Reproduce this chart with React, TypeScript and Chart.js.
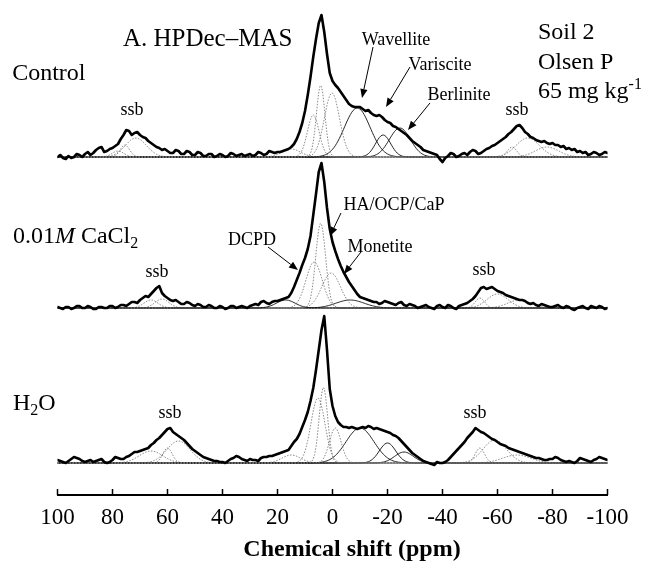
import React, { useEffect, useRef } from "react";
import { Chart, registerables } from "chart.js";

Chart.register(...registerables);

// ---------- data ----------
// chemical shift (ppm), one point per ppm from 100 down to -100
const ppm = [
  100, 99, 98, 97, 96, 95, 94, 93, 92, 91,
  90, 89, 88, 87, 86, 85, 84, 83, 82, 81,
  80, 79, 78, 77, 76, 75, 74, 73, 72, 71,
  70, 69, 68, 67, 66, 65, 64, 63, 62, 61,
  60, 59, 58, 57, 56, 55, 54, 53, 52, 51,
  50, 49, 48, 47, 46, 45, 44, 43, 42, 41,
  40, 39, 38, 37, 36, 35, 34, 33, 32, 31,
  30, 29, 28, 27, 26, 25, 24, 23, 22, 21,
  20, 19, 18, 17, 16, 15, 14, 13, 12, 11,
  10, 9, 8, 7, 6, 5, 4, 3, 2, 1,
  0, -1, -2, -3, -4, -5, -6, -7, -8, -9,
  -10, -11, -12, -13, -14, -15, -16, -17, -18, -19,
  -20, -21, -22, -23, -24, -25, -26, -27, -28, -29,
  -30, -31, -32, -33, -34, -35, -36, -37, -38, -39,
  -40, -41, -42, -43, -44, -45, -46, -47, -48, -49,
  -50, -51, -52, -53, -54, -55, -56, -57, -58, -59,
  -60, -61, -62, -63, -64, -65, -66, -67, -68, -69,
  -70, -71, -72, -73, -74, -75, -76, -77, -78, -79,
  -80, -81, -82, -83, -84, -85, -86, -87, -88, -89,
  -90, -91, -92, -93, -94, -95, -96, -97, -98, -99,
  -100,
];

const controlSpectrum = [
  0, 2, -1, -2, 1, -1, 0, 3, 2, 0,
  3, 5, 2, 4, 7, 9, 10, 5, 6, 8,
  9, 11, 13, 18, 22, 27, 26, 22, 24, 25,
  22, 20, 19, 16, 14, 12, 10, 9, 7, 8,
  6, 4, 4, 7, 6, 3, 3, 6, 5, 2,
  2, 5, 4, 1, 1, 3, 3, 0, 1, 3,
  2, 0, 1, 4, 3, 1, 2, 3, 1, 2,
  3, 1, 2, 5, 4, 2, 3, 6, 5, 4,
  5, 5, 6, 7, 8, 10, 13, 18, 25, 34,
  46, 62, 80, 100, 118, 134, 142, 125, 103, 84,
  76, 72, 69, 65, 61, 57, 53, 51, 50, 50,
  50, 48, 46, 47, 44, 42, 41, 42, 40, 37,
  35, 34, 31, 30, 28, 26, 24, 22, 19, 16,
  14, 12, 10, 7, 6, 5, 4, 3, 2, -2,
  -5, -1, 1, 4, 3, 0, 1, 3, 4, 2,
  5, 7, 6, 3, 4, 6, 8, 9, 11, 12,
  14, 16, 18, 20, 23, 25, 28, 31, 32, 29,
  25, 23, 20, 19, 17, 16, 15, 16, 14, 13,
  14, 12, 12, 10, 11, 8, 9, 7, 8, 5,
  6, 4, 5, 2, 3, 5, 4, 2, 3, 5,
  4,
];

const cacl2Spectrum = [
  1, 0, -1, 1, 1, -1, 0, 2, 2, 0,
  0, 2, 1, -1, -1, 1, 1, 0, 0, 2,
  2, 0, 1, 3, 3, 2, 4, 6, 6, 5,
  8, 10, 12, 11, 14, 17, 20, 22, 15, 12,
  10, 8, 7, 8, 6, 4, 4, 6, 5, 3,
  2, 4, 3, 1, 1, 3, 2, 0, 0, 2,
  1, -1, 0, 2, 2, 0, 1, 2, 1, 0,
  2, 3, 4, 3, 6, 7, 5, 4, 6, 7,
  7, 8, 9, 10, 11, 15, 21, 28, 35, 43,
  50, 59, 72, 93, 114, 136, 145, 126, 100, 79,
  66, 57, 49, 42, 36, 31, 26, 22, 18, 14,
  11, 10, 9, 8, 7, 6, 6, 4, 5, 7,
  6, 5, 4, 3, 5, 6, 3, 2, 4, 3,
  2, 0, 1, 2, 3, 1, 0, -1, 2, 3,
  1, 0, 3, 2, 0, -1, 2, 3, 4, 5,
  7, 9, 12, 16, 20, 21, 19, 20, 21, 19,
  17, 16, 15, 13, 12, 11, 10, 9, 8, 8,
  7, 5, 4, 5, 3, 2, 4, 3, 2, 1,
  1, 2, 3, 1, 0, 2, 1, -1, -2, 0,
  1, 2, 0, -1, 2, 1, 0, 2, 1, -1,
  0,
];

const waterSpectrum = [
  3, 2, 1, 0, 2, 4, 6, 5, 4, 2,
  1, 2, 3, 1, 2, 3, 4, 1, 0, 1,
  3, 6, 5, 4, 4, 6, 7, 9, 11, 11,
  12, 13, 14, 15, 18, 20, 23, 25, 28, 31,
  34, 35, 31, 29, 27, 25, 23, 20, 17, 14,
  12, 10, 8, 6, 5, 4, 3, 2, 2, 1,
  1, 0, 2, 4, 5, 7, 6, 4, 3, 2,
  4, 3, 3, 2, 5, 6, 6, 7, 7, 8,
  9, 10, 11, 12, 13, 17, 21, 24, 29, 36,
  43, 51, 62, 75, 93, 113, 133, 147, 113, 74,
  57, 47, 41, 38, 36, 36, 35, 36, 35, 34,
  35, 36, 35, 37, 36, 34, 35, 34, 33, 32,
  31, 30, 28, 27, 25, 22, 19, 16, 13, 10,
  8, 6, 4, 2, 1, 0, -1, -2, 1, 0,
  0, 1, 3, 6, 9, 12, 15, 18, 21, 25,
  28, 31, 35, 33, 31, 30, 28, 26, 24, 23,
  21, 19, 18, 17, 15, 14, 13, 12, 11, 10,
  9, 8, 7, 6, 5, 5, 4, 3, 3, 4,
  4, 6, 5, 3, 2, 1, 2, 1, 0, 2,
  5, 4, 3, 2, 1, 3, 4, 6, 5, 4,
  3,
];

// fitted components: centre (ppm), height, FWHM (ppm), line kind (s = solid, d = dotted)
const controlCompCenters = [15, 7, 4.3, 0.2, -9, -18.4, -24.5, 78, 75.5, 71.5, -65.3, -71, -78];
const controlCompHeights = [8, 42, 72, 64, 49, 22, 29, 6, 12, 19, 10, 19, 10];
const controlCompWidths = [8, 5, 3.6, 6.5, 11, 6.5, 9, 5, 4, 9, 4, 10, 10];
const controlCompKinds = ["d", "d", "d", "d", "s", "s", "s", "d", "d", "d", "d", "d", "d"];

const cacl2CompCenters = [17, 6.7, 4.3, 0.5, -6.4, 66, 62, -53.6, -60, -68];
const cacl2CompHeights = [8, 46, 85, 35, 8, 8, 9, 10, 14, 8];
const cacl2CompWidths = [8, 7, 4.2, 8, 12, 6, 6, 4, 9, 10];
const cacl2CompKinds = ["s", "d", "d", "d", "s", "d", "d", "d", "d", "d"];

const waterCompCenters = [15, 5.3, 3.3, -1, -10, -20, -26, 60, 56, 66, -53.6, -59, -67];
const waterCompHeights = [8, 65, 76, 35, 35, 20, 11, 15, 22, 12, 15, 23, 8];
const waterCompWidths = [8, 6, 3.6, 5, 12, 7, 8, 4, 10, 10, 4, 10, 12];
const waterCompKinds = ["d", "d", "d", "d", "s", "s", "s", "d", "d", "d", "d", "d", "d"];

const xTicks = [100, 80, 60, 40, 20, 0, -20, -40, -60, -80, -100];

// vertical offsets of the stacked traces (y-axis units)
const OFFSET_CONTROL = 338;
const OFFSET_CACL2 = 187;
const OFFSET_WATER = 32;

// ---------- annotations (positions in data units: ppm, y) ----------
type Run = { t: string; it?: boolean; sub?: boolean; sup?: boolean };
type Label = { runs: Run[]; x: number; y: number; size: number; align: "left" | "center"; bold?: boolean };

const labels: Label[] = [
  { runs: [{ t: "A. HPDec\u2013MAS" }], x: 76.2, y: 449, size: 25, align: "left" },
  { runs: [{ t: "Control" }], x: 116.5, y: 415, size: 24, align: "left" },
  { runs: [{ t: "Soil 2" }], x: -74.7, y: 456, size: 24, align: "left" },
  { runs: [{ t: "Olsen P" }], x: -74.7, y: 426, size: 24, align: "left" },
  { runs: [{ t: "65 mg kg" }, { t: "-1", sup: true }], x: -74.7, y: 397, size: 24, align: "left" },
  { runs: [{ t: "ssb" }], x: 72.9, y: 380, size: 18, align: "center" },
  { runs: [{ t: "Wavellite" }], x: -23.1, y: 450, size: 18, align: "center" },
  { runs: [{ t: "Variscite" }], x: -39.1, y: 425, size: 18, align: "center" },
  { runs: [{ t: "Berlinite" }], x: -46, y: 395, size: 18, align: "center" },
  { runs: [{ t: "ssb" }], x: -67.1, y: 380, size: 18, align: "center" },
  { runs: [{ t: "0.01" }, { t: "M", it: true }, { t: " CaCl" }, { t: "2", sub: true }], x: 116.2, y: 252, size: 24, align: "left" },
  { runs: [{ t: "DCPD" }], x: 29.3, y: 250, size: 18, align: "center" },
  { runs: [{ t: "ssb" }], x: 63.8, y: 218, size: 18, align: "center" },
  { runs: [{ t: "HA/OCP/CaP" }], x: -22.4, y: 285, size: 18, align: "center" },
  { runs: [{ t: "Monetite" }], x: -17.3, y: 243, size: 18, align: "center" },
  { runs: [{ t: "ssb" }], x: -55.1, y: 220, size: 18, align: "center" },
  { runs: [{ t: "H" }, { t: "2", sub: true }, { t: "O" }], x: 116.2, y: 85, size: 24, align: "left" },
  { runs: [{ t: "ssb" }], x: 59.1, y: 77, size: 18, align: "center" },
  { runs: [{ t: "ssb" }], x: -51.8, y: 77, size: 18, align: "center" },
  { runs: [{ t: "Chemical shift (ppm)" }], x: -7.1, y: -61, size: 24, align: "center", bold: true },
];

const arrows = [
  { from: [-14.73, 448], to: [-10.73, 397] },
  { from: [-28.18, 428], to: [-19.45, 388] },
  { from: [-35.45, 392], to: [-27.45, 365] },
  { from: [23.45, 248], to: [12.55, 225] },
  { from: [-3.09, 282], to: [0.91, 259] },
  { from: [-10.36, 243], to: [-4.18, 221] },
];

const FONT = '"Liberation Serif", "Times New Roman", serif';

// ---------- helpers ----------
const compGrid: number[] = [];
for (let i = 0; i <= 400; i++) compGrid.push(100 - i * 0.5);

function spectrumPoints(vals: number[], off: number) {
  return ppm.map((p, i) => ({ x: p, y: off + vals[i] }));
}

function componentDatasets(c: number[], h: number[], w: number[], k: string[], off: number) {
  return c.map((center, i) => {
    const dotted = k[i] === "d";
    return {
      data: compGrid.map((p) => ({
        x: p,
        y: off + h[i] * Math.exp((-4 * Math.LN2 * (p - center) * (p - center)) / (w[i] * w[i])),
      })),
      borderColor: dotted ? "#7a7a7a" : "#111",
      borderWidth: 0.9,
      borderDash: dotted ? [1.5, 1.5] : [],
      pointRadius: 0,
      tension: 0,
      fill: false,
      order: 2,
    };
  });
}

function expDataset(vals: number[], off: number) {
  return {
    data: spectrumPoints(vals, off),
    borderColor: "#000",
    borderWidth: 2.6,
    pointRadius: 0,
    tension: 0,
    fill: false,
    order: 0,
    borderJoinStyle: "round" as const,
    borderCapStyle: "round" as const,
  };
}

function drawRuns(ctx: CanvasRenderingContext2D, lab: Label, x: number, y: number) {
  const fontFor = (r: Run) => {
    const sz = r.sub || r.sup ? Math.round(lab.size * 0.65) : lab.size;
    return `${r.it ? "italic " : ""}${lab.bold ? "bold " : ""}${sz}px ${FONT}`;
  };
  let total = 0;
  for (const r of lab.runs) {
    ctx.font = fontFor(r);
    total += ctx.measureText(r.t).width;
  }
  let cx = lab.align === "center" ? x - total / 2 : x;
  for (const r of lab.runs) {
    ctx.font = fontFor(r);
    const dy = r.sub ? lab.size * 0.22 : r.sup ? -lab.size * 0.38 : 0;
    ctx.fillText(r.t, cx, y + dy);
    cx += ctx.measureText(r.t).width;
  }
}

const decorPlugin = {
  id: "decor",
  afterDraw(chart: any) {
    const ctx: CanvasRenderingContext2D = chart.ctx;
    const xs = chart.scales.x;
    const ys = chart.scales.y;
    const px = (v: number) => xs.getPixelForValue(v);
    const py = (v: number) => ys.getPixelForValue(v);
    ctx.save();
    // inward tick marks
    ctx.strokeStyle = "#000";
    ctx.lineWidth = 1.5;
    for (const t of xs.ticks) {
      const x = px(t.value);
      ctx.beginPath();
      ctx.moveTo(x, xs.top);
      ctx.lineTo(x, xs.top - 6);
      ctx.stroke();
    }
    // labels
    ctx.fillStyle = "#000";
    ctx.textBaseline = "alphabetic";
    ctx.textAlign = "left";
    for (const lab of labels) drawRuns(ctx, lab, px(lab.x), py(lab.y));
    // arrows
    ctx.lineWidth = 1;
    for (const a of arrows) {
      const x1 = px(a.from[0]), y1 = py(a.from[1]);
      const x2 = px(a.to[0]), y2 = py(a.to[1]);
      const ang = Math.atan2(y2 - y1, x2 - x1);
      const L = 9, W = 3.6;
      const bx = x2 - L * Math.cos(ang), by = y2 - L * Math.sin(ang);
      ctx.beginPath();
      ctx.moveTo(x1, y1);
      ctx.lineTo(bx, by);
      ctx.stroke();
      ctx.beginPath();
      ctx.moveTo(x2, y2);
      ctx.lineTo(bx + W * Math.sin(ang), by - W * Math.cos(ang));
      ctx.lineTo(bx - W * Math.sin(ang), by + W * Math.cos(ang));
      ctx.closePath();
      ctx.fill();
    }
    ctx.restore();
  },
};

export default function App() {
  const ref = useRef<HTMLCanvasElement | null>(null);
  useEffect(() => {
    if (!ref.current) return;
    const datasets: any[] = [
      expDataset(controlSpectrum, OFFSET_CONTROL),
      expDataset(cacl2Spectrum, OFFSET_CACL2),
      expDataset(waterSpectrum, OFFSET_WATER),
      ...componentDatasets(controlCompCenters, controlCompHeights, controlCompWidths, controlCompKinds, OFFSET_CONTROL),
      ...componentDatasets(cacl2CompCenters, cacl2CompHeights, cacl2CompWidths, cacl2CompKinds, OFFSET_CACL2),
      ...componentDatasets(waterCompCenters, waterCompHeights, waterCompWidths, waterCompKinds, OFFSET_WATER),
    ];
    const chart = new Chart(ref.current, {
      type: "line",
      data: { datasets },
      options: {
        animation: false,
        responsive: false,
        events: [],
        layout: { padding: { left: 57.5, right: 40.5, top: 0, bottom: 0 } },
        plugins: { legend: { display: false }, tooltip: { enabled: false } },
        scales: {
          x: {
            type: "linear",
            reverse: true,
            min: -100,
            max: 100,
            afterBuildTicks: (scale: any) => {
              scale.ticks = xTicks.map((v) => ({ value: v }));
            },
            afterFit: (scale: any) => {
              scale.height = 68;
            },
            ticks: {
              autoSkip: false,
              maxRotation: 0,
              padding: 9,
              color: "#000",
              font: { family: FONT, size: 23 },
              callback: (v: any) => String(v),
            },
            grid: { display: false, drawTicks: false },
            border: { display: true, color: "#000", width: 2 },
          },
          y: { display: false, min: 0, max: 495 },
        },
      },
      plugins: [decorPlugin],
    } as any);
    return () => chart.destroy();
  }, []);
  return (
    <div style={{ position: "absolute", left: 0, top: 0, width: 648, height: 563, background: "#fff" }}>
      <canvas ref={ref} width={648} height={563} style={{ display: "block" }} />
    </div>
  );
}
